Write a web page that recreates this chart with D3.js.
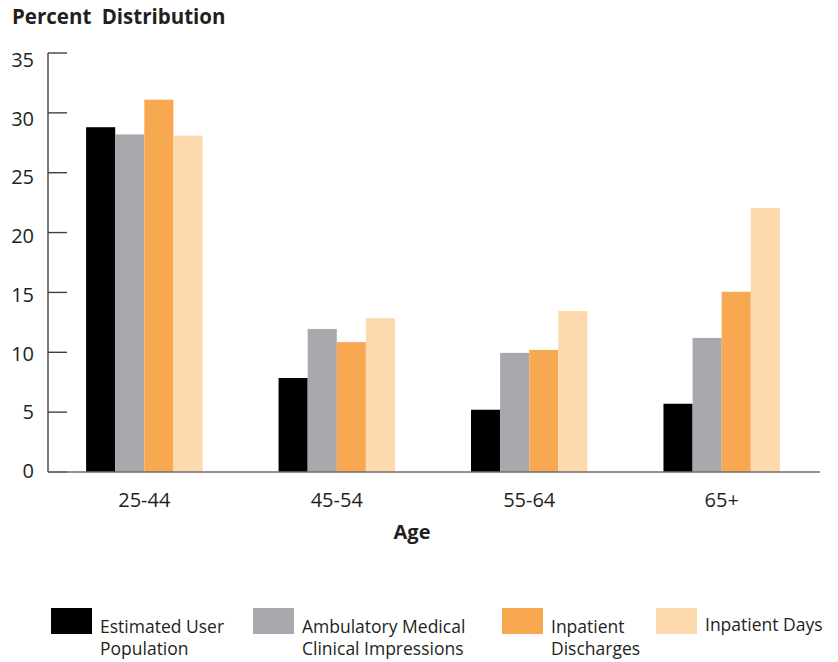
<!DOCTYPE html>
<html>
<head>
  <meta charset="UTF-8">
  <title>Percent Distribution</title>
  <script src="https://cdn.jsdelivr.net/npm/d3@7"></script>
  <style>
    body { margin: 0; background: #fff; }
    text { font-family: "Open Sans", sans-serif; fill: #231f20; }
    .title { font-weight: bold; font-size: 20.5px; word-spacing: 5px; }
    .tick-label { font-size: 20px; }
    .axis-title { font-weight: bold; font-size: 20px; }
    .legend text { font-size: 17.5px; }
  </style>
</head>
<body>
  <div id="chart"></div>
  <script>
    // data
    var ageGroups = ["25-44", "45-54", "55-64", "65+"];
    var seriesNames = [
      "Estimated User Population",
      "Ambulatory Medical Clinical Impressions",
      "Inpatient Discharges",
      "Inpatient Days"
    ];
    var estimatedUser = [28.8, 7.85, 5.2, 5.7];
    var ambulatory    = [28.2, 11.95, 9.95, 11.2];
    var discharges    = [31.1, 10.85, 10.2, 15.05];
    var inpatientDays = [28.1, 12.85, 13.45, 22.05];
    var yTicks = [0, 5, 10, 15, 20, 25, 30, 35];

    var seriesValues = [estimatedUser, ambulatory, discharges, inpatientDays];
    var colors = ["#000000", "#a7a9ac", "#f9a852", "#fdd9ae"];

    var width = 838, height = 662;

    var svg = d3.select("#chart").append("svg")
      .attr("width", width)
      .attr("height", height);

    /* Scales */
    var y = d3.scaleLinear().domain([0, 35]).range([472, 53]);
    // labels sit a little lower than their ticks in the original
    var yLabel = d3.scaleLinear().domain([0, 35]).range([471, 60]);

    var x0 = d3.scaleBand()
      .domain(ageGroups)
      .range([48, 818])
      .paddingInner(0.395)
      .paddingOuter(0.198);

    var x1 = d3.scaleBand()
      .domain(d3.range(seriesNames.length))
      .range([0, x0.bandwidth()]);

    /* Title */
    svg.append("text")
      .attr("class", "title")
      .attr("x", 12)
      .attr("y", 24)
      .text("Percent Distribution");

    /* Bars */
    var groups = svg.append("g").selectAll("g")
      .data(ageGroups).enter()
      .append("g")
      .attr("transform", function(d) { return "translate(" + x0(d) + ",0)"; });

    groups.selectAll("rect")
      .data(function(d, i) {
        return seriesValues.map(function(s, k) { return { k: k, v: s[i] }; });
      }).enter()
      .append("rect")
      .attr("x", function(d) { return x1(d.k); })
      .attr("y", function(d) { return y(d.v); })
      .attr("width", x1.bandwidth())
      .attr("height", function(d) { return y(0) - y(d.v); })
      .attr("fill", function(d) { return colors[d.k]; });

    /* Y axis */
    var yAxis = svg.append("g").attr("class", "y axis");
    yAxis.append("line")
      .attr("x1", 48).attr("x2", 48)
      .attr("y1", y(35)).attr("y2", y(0))
      .attr("stroke", "#414042").attr("stroke-width", 1.4);
    yAxis.selectAll(".ytick")
      .data(yTicks).enter()
      .append("line")
      .attr("class", "ytick")
      .attr("x1", 48).attr("x2", 67)
      .attr("y1", function(d) { return y(d); })
      .attr("y2", function(d) { return y(d); })
      .attr("stroke", "#414042").attr("stroke-width", 1.4);
    yAxis.selectAll(".tick-label")
      .data(yTicks).enter()
      .append("text")
      .attr("class", "tick-label")
      .attr("x", 34)
      .attr("y", function(d) { return yLabel(d); })
      .attr("dy", "0.35em")
      .attr("text-anchor", "end")
      .text(function(d) { return d; });

    /* X axis */
    svg.append("line")
      .attr("x1", 48).attr("x2", 820)
      .attr("y1", y(0)).attr("y2", y(0))
      .attr("stroke", "#6d6e71").attr("stroke-width", 1.4);

    svg.append("g").selectAll("text")
      .data(ageGroups).enter()
      .append("text")
      .attr("class", "tick-label")
      .attr("x", function(d) { return x0(d) + x0.bandwidth() / 2; })
      .attr("y", 507)
      .attr("text-anchor", "middle")
      .text(function(d) { return d; });

    svg.append("text")
      .attr("class", "axis-title")
      .attr("x", 412)
      .attr("y", 539)
      .attr("text-anchor", "middle")
      .text("Age");

    /* Legend */
    var legendItems = [
      { x: 51, lines: ["Estimated User", "Population"] },
      { x: 253, lines: ["Ambulatory Medical", "Clinical Impressions"] },
      { x: 502, lines: ["Inpatient", "Discharges"] },
      { x: 656, lines: ["Inpatient Days"] }
    ];

    var legend = svg.append("g").attr("class", "legend")
      .selectAll("g")
      .data(legendItems).enter()
      .append("g")
      .attr("transform", function(d) { return "translate(" + d.x + ",608)"; });

    legend.append("rect")
      .attr("width", 41)
      .attr("height", 26)
      .attr("fill", function(d, i) { return colors[i]; });

    legend.append("text")
      .attr("x", 49)
      .attr("y", function(d, i) { return i === 3 ? 23 : 25; })
      .selectAll("tspan")
      .data(function(d) { return d.lines; }).enter()
      .append("tspan")
      .attr("x", 49)
      .attr("dy", function(d, i) { return i === 0 ? 0 : 22; })
      .text(function(d) { return d; });
  </script>
</body>
</html>
